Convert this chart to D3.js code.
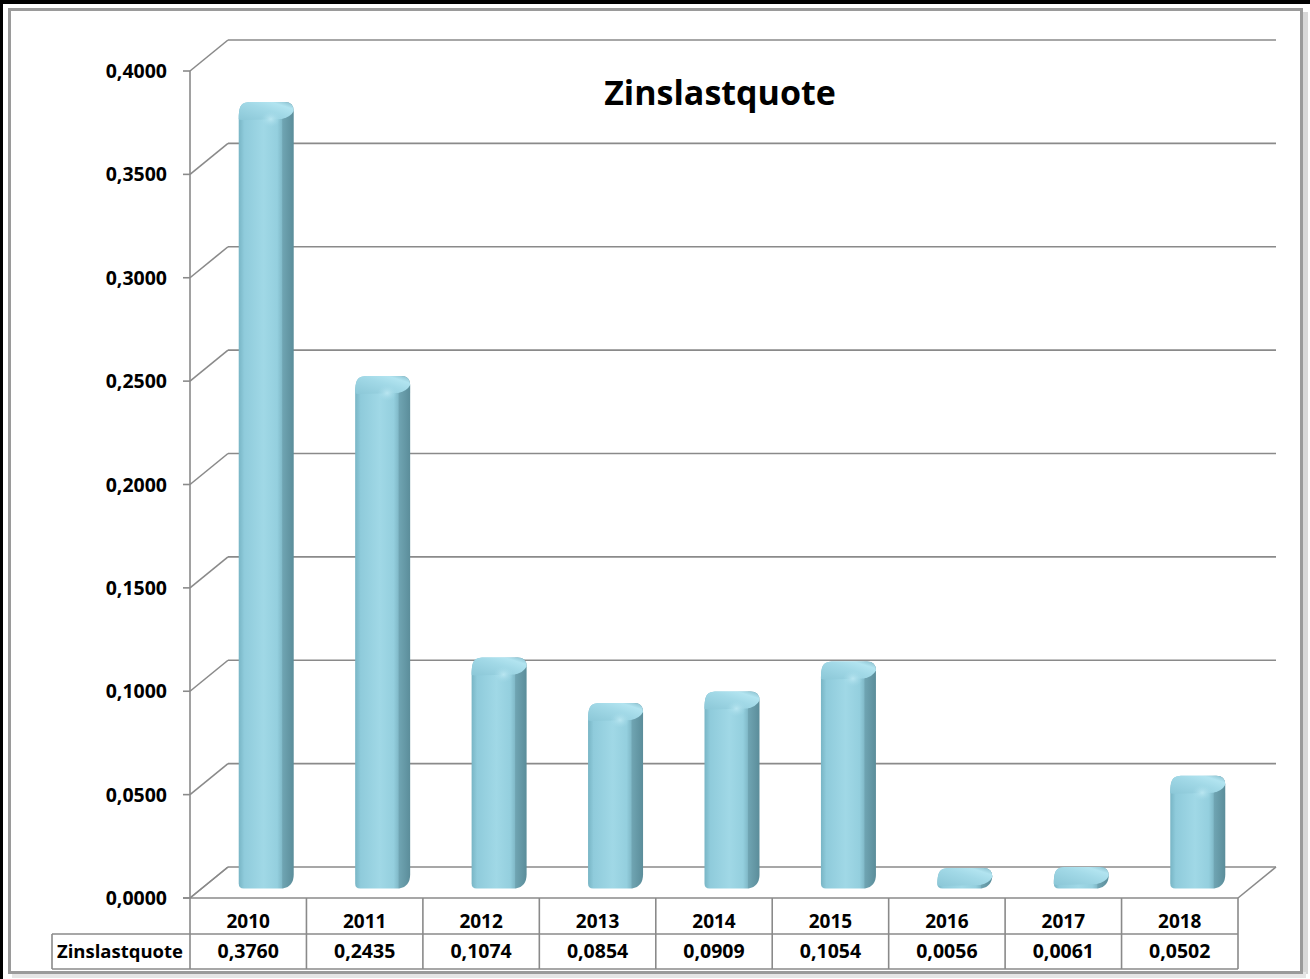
<!DOCTYPE html>
<html lang="de">
<head>
<meta charset="utf-8">
<title>Zinslastquote</title>
<script src="https://d3js.org/d3.v7.min.js"></script>
<style>
  html, body { margin: 0; padding: 0; background: #fff; }
  svg text { font-family: "Open Sans", Lato, sans-serif; font-weight: bold; fill: #000; }
</style>
</head>
<body>
<svg width="1310" height="979"></svg>
<script>
    var years = ["2010","2011","2012","2013","2014","2015","2016","2017","2018"];
    var values = [0.3760, 0.2435, 0.1074, 0.0854, 0.0909, 0.1054, 0.0056, 0.0061, 0.0502];
    var yTicks = [0, 0.05, 0.1, 0.15, 0.2, 0.25, 0.3, 0.35, 0.4];
    var seriesName = "Zinslastquote";

    var svg = d3.select("svg");
    var fmt = function(v){ return v.toFixed(4).replace(".", ","); };

    // 3D tiefe der rückwand
    var depthX = 38, depthY = -31;

    var y = d3.scaleLinear().domain([0, 0.4]).range([898, 71]);
    var x = d3.scaleBand().domain(years).range([190, 1238]);

    // rahmen
    svg.append("rect").attr("x",0).attr("y",0).attr("width",1310).attr("height",4).attr("fill","#000");
    svg.append("rect").attr("x",0).attr("y",0).attr("width",3).attr("height",979).attr("fill","#000");
    svg.append("rect").attr("x",1300).attr("y",12).attr("width",8).attr("height",962).attr("fill","#d8d8d8");
    svg.append("rect").attr("x",12).attr("y",972).attr("width",1294).attr("height",6).attr("fill","#e6e6e6");
    svg.append("rect").attr("x",9.5).attr("y",9.5).attr("width",1292).attr("height",963)
        .attr("fill","#fff").attr("stroke","#9a9a9a").attr("stroke-width",3);

    var grid = svg.append("g").attr("stroke","#8a8a8a").attr("stroke-width",1.6).attr("fill","none");

    // gitterlinien hinten + seitenwand
    yTicks.forEach(function(t){
        grid.append("line").attr("x1",190+depthX).attr("x2",1238+depthX)
            .attr("y1",y(t)+depthY).attr("y2",y(t)+depthY);
        grid.append("line").attr("x1",190).attr("x2",190+depthX)
            .attr("y1",y(t)).attr("y2",y(t)+depthY);
        grid.append("line").attr("x1",183).attr("x2",190)
            .attr("y1",y(t)).attr("y2",y(t));
    });
    grid.append("line").attr("x1",190).attr("x2",190).attr("y1",y(0.4)).attr("y2",y(0));
    // boden
    grid.append("line").attr("x1",1238).attr("x2",1238+depthX).attr("y1",y(0)).attr("y2",y(0)+depthY);

    // y-achsen beschriftung
    svg.append("g").selectAll("text").data(yTicks).enter().append("text")
        .attr("x",167).attr("y",function(d){ return y(d); })
        .attr("dy","0.36em").attr("text-anchor","end")
        .attr("font-size",19.5).text(fmt);

    // farbverläufe
    var defs = svg.append("defs");
    var g1 = defs.append("linearGradient").attr("id","body").attr("x1","0").attr("x2","1").attr("y1","0").attr("y2","0");
    [[0,"#78b5c5"],[0.1,"#8fcbdb"],[0.45,"#a0d8e6"],[0.7,"#94cfde"],[0.78,"#82bbca"],[0.8,"#6fa4b2"],[1,"#5b8d9a"]]
        .forEach(function(s){ g1.append("stop").attr("offset",s[0]).attr("stop-color",s[1]); });
    var g2 = defs.append("linearGradient").attr("id","cap").attr("x1","0").attr("x2","1").attr("y1","1").attr("y2","0");
    [[0,"#8bc7d7"],[0.55,"#a2d9e7"],[0.8,"#b2e4f0"],[1,"#86bccb"]]
        .forEach(function(s){ g2.append("stop").attr("offset",s[0]).attr("stop-color",s[1]); });
    var g3 = defs.append("radialGradient").attr("id","glow");
    g3.append("stop").attr("offset",0).attr("stop-color","#c8eff8").attr("stop-opacity",0.7);
    g3.append("stop").attr("offset",1).attr("stop-color","#a6dcea").attr("stop-opacity",0);

    var W = 55, dd = 12;
    function bodyPath(L, bt, ft, yb){
        var R = L + W;
        return "M" + L + "," + (yb-5) +
            " L" + L + "," + (ft+4) +
            " C" + L + "," + (bt+1) + " " + (L+4) + "," + bt + " " + (L+dd+2) + "," + bt +
            " L" + (R-9) + "," + bt +
            " Q" + R + "," + bt + " " + R + "," + (bt+9) +
            " L" + R + "," + (yb-dd-2) +
            " Q" + R + "," + (yb-2) + " " + (R-11) + "," + yb +
            " L" + (L+5) + "," + yb +
            " Q" + L + "," + yb + " " + L + "," + (yb-5) + " Z";
    }
    function capPath(L, bt, ft){
        var R = L + W;
        return "M" + L + "," + (ft+4) +
            " C" + L + "," + (bt+1) + " " + (L+4) + "," + bt + " " + (L+dd+2) + "," + bt +
            " L" + (R-9) + "," + bt +
            " Q" + R + "," + bt + " " + R + "," + (bt+9) +
            " Q" + (R-3) + "," + (ft+2) + " " + (R-dd) + "," + (ft+4) +
            " L" + (L+6) + "," + (ft+5) +
            " Q" + L + "," + (ft+5) + " " + L + "," + (ft+4) + " Z";
    }

    var bars = svg.append("g").selectAll("g").data(values).enter().append("g");
    bars.each(function(v, i){
        var cx = x(years[i]) + x.bandwidth()/2 + depthX/2;
        var L = cx - W/2 - 1;
        var yv = y(v) + depthY/2;
        var bt = yv - 3, ft = yv + 10;
        var yb = y(0) + depthY/2 + 6;
        var g = d3.select(this);
        g.append("path").attr("d", bodyPath(L, bt, ft, yb)).attr("fill","url(#body)");
        g.append("path").attr("d", capPath(L, bt, ft)).attr("fill","url(#cap)");
        if (yb - ft > 20) {
            g.append("ellipse").attr("cx", L + W - dd - 11).attr("cy", ft + 4)
                .attr("rx", 10).attr("ry", 8).attr("fill","url(#glow)");
        }
    });

    // datentabelle
    var tbl = svg.append("g").attr("stroke","#8a8a8a").attr("stroke-width",1.6).attr("fill","none");
    tbl.append("line").attr("x1",190+depthX).attr("x2",190).attr("y1",y(0)+depthY).attr("y2",y(0));
    tbl.append("line").attr("x1",183).attr("x2",1238).attr("y1",y(0)).attr("y2",y(0));
    tbl.append("line").attr("x1",52).attr("x2",1238).attr("y1",934).attr("y2",934);
    tbl.append("line").attr("x1",52).attr("x2",1238).attr("y1",969).attr("y2",969);
    tbl.append("line").attr("x1",52).attr("x2",52).attr("y1",934).attr("y2",969);
    years.concat(["end"]).forEach(function(d, i){
        var xx = 190 + i * x.bandwidth();
        tbl.append("line").attr("x1",xx).attr("x2",xx).attr("y1",y(0)).attr("y2",969);
    });

    svg.append("g").selectAll("text").data(years).enter().append("text")
        .attr("x",function(d){ return x(d) + x.bandwidth()/2; })
        .attr("y",921).attr("dy","0.36em").attr("text-anchor","middle")
        .attr("font-size",19).text(function(d){ return d; });
    svg.append("g").selectAll("text").data(values).enter().append("text")
        .attr("x",function(d,i){ return x(years[i]) + x.bandwidth()/2; })
        .attr("y",951).attr("dy","0.36em").attr("text-anchor","middle")
        .attr("font-size",19.5).text(fmt);
    svg.append("text").attr("x",120).attr("y",951).attr("dy","0.36em")
        .attr("text-anchor","middle").attr("font-size",18.5).text(seriesName);

    // titel
    svg.append("text").attr("x",720).attr("y",105).attr("text-anchor","middle")
        .attr("font-size",34).text(seriesName);
</script>
</body>
</html>
